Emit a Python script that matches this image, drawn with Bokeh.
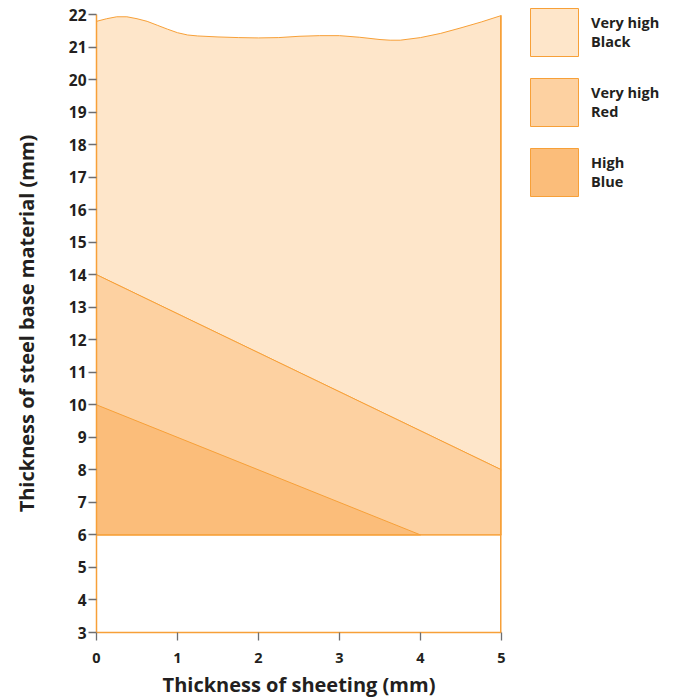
from bokeh.plotting import figure
from bokeh.models import Range1d, Legend, LegendItem, FixedTicker
from bokeh.layouts import row, column
from bokeh.embed import file_html
from bokeh.resources import INLINE

# ---- data ----
sheeting_x = [0, 0.125, 0.25, 0.375, 0.5, 0.625, 0.75, 0.875, 1.0, 1.125, 1.25, 1.5,
              1.75, 2.0, 2.25, 2.5, 2.75, 3.0, 3.25, 3.5, 3.625, 3.75, 4.0, 4.25,
              4.5, 4.75, 5.0]
black_top = [21.79, 21.87, 21.93, 21.93, 21.87, 21.79, 21.67, 21.55, 21.44, 21.37, 21.34, 21.31,
             21.29, 21.28, 21.29, 21.33, 21.35, 21.35, 21.30, 21.23, 21.21, 21.21, 21.29, 21.42,
             21.59, 21.77, 21.97]
red_x = [0, 5]
red_top = [14, 8]
blue_x = [0, 4]
blue_top = [10, 6]
base_level = 6
x_ticks = [0, 1, 2, 3, 4, 5]
y_ticks = list(range(3, 23))
labels = ["Very high\nBlack", "Very high\nRed", "High\nBlue"]

FILL_BLACK = "#FEE6CA"
FILL_RED = "#FDD1A1"
FILL_BLUE = "#FBBD7A"
EDGE = "#F7A038"
TEXT = "#231F20"
TICK = "#6D6E71"
FONT = "Open Sans"

x0, x1 = x_ticks[0], x_ticks[-1]
y0, y1 = y_ticks[0], y_ticks[-1]

# region polygons built from the data
bx = sheeting_x + red_x[::-1]
by = black_top + red_top[::-1]
rx = red_x + red_x[::-1]
ry = red_top + [base_level, base_level]
bbx = blue_x + [blue_x[0]]
bby = blue_top + [base_level]
regions = [(bx, by, FILL_BLACK), (rx, ry, FILL_RED), (bbx, bby, FILL_BLUE)]

p = figure(width=522, height=700, output_backend="svg", toolbar_location=None, title=None,
           x_range=Range1d(x0, x1), y_range=Range1d(y0, y1),
           min_border_left=96, min_border_right=21, min_border_top=14, min_border_bottom=68)
p.outline_line_color = None
p.grid.visible = False
p.background_fill_color = "white"

for xs, ys, col in regions:
    p.patch(xs, ys, fill_color=col, line_color=EDGE, line_width=1)

# base line and right frame edge
p.line([x0, x1], [base_level, base_level], line_color=EDGE, line_width=1)
p.line([x1, x1], [y0, black_top[-1]], line_color=EDGE, line_width=3)

# axes
p.xaxis.ticker = FixedTicker(ticks=x_ticks)
p.yaxis.ticker = FixedTicker(ticks=y_ticks)
for ax in (p.xaxis, p.yaxis):
    ax.axis_line_color = EDGE
    ax.axis_line_width = 1.5
    ax.major_tick_line_color = TICK
    ax.major_tick_line_width = 1.3
    ax.major_tick_in = 0
    ax.major_tick_out = 8
    ax.minor_tick_line_color = None
    ax.major_label_text_font = FONT
    ax.major_label_text_font_style = "bold"
    ax.major_label_text_color = TEXT
    ax.axis_label_text_font = FONT
    ax.axis_label_text_font_style = "bold"
    ax.axis_label_text_color = TEXT
    ax.axis_label_text_font_size = "20px"
p.xaxis.major_label_text_font_size = "14.5px"
p.yaxis.major_label_text_font_size = "15.5px"
p.xaxis.major_label_standoff = 12
p.yaxis.major_label_standoff = 2
p.xaxis.axis_label = "Thickness of sheeting (mm)"
p.yaxis.axis_label = "Thickness of steel base material (mm)"
p.xaxis.axis_label_standoff = 5
p.yaxis.axis_label_standoff = 26

# ---- legend panel (swatch renderers kept out of view) ----
lg = figure(width=156, height=700, output_backend="svg", toolbar_location=None, title=None,
            x_axis_location=None, y_axis_location=None,
            x_range=Range1d(100, 101), y_range=Range1d(100, 101),
            min_border_left=0, min_border_right=0, min_border_top=0, min_border_bottom=0)
lg.outline_line_color = None
lg.grid.visible = False
items = []
for lab, (xs, ys, col) in zip(labels, regions):
    r = lg.patch(xs, ys, fill_color=col, line_color=EDGE, line_width=1)
    items.append(LegendItem(label=lab, renderers=[r]))

legend = Legend(items=items, location="top_left", orientation="vertical")
legend.glyph_width = 60
legend.glyph_height = 60
legend.spacing = 10
legend.padding = 0
legend.margin = 2
legend.label_standoff = 7
legend.label_text_font = FONT
legend.label_text_font_style = "bold"
legend.label_text_font_size = "14.5px"
legend.label_text_color = TEXT
legend.label_text_line_height = 1.35
legend.border_line_alpha = 0
legend.background_fill_alpha = 0
lg.add_layout(legend, "center")

layout = row(p, column(lg))
open("out.html", "w").write(file_html(layout, INLINE))
